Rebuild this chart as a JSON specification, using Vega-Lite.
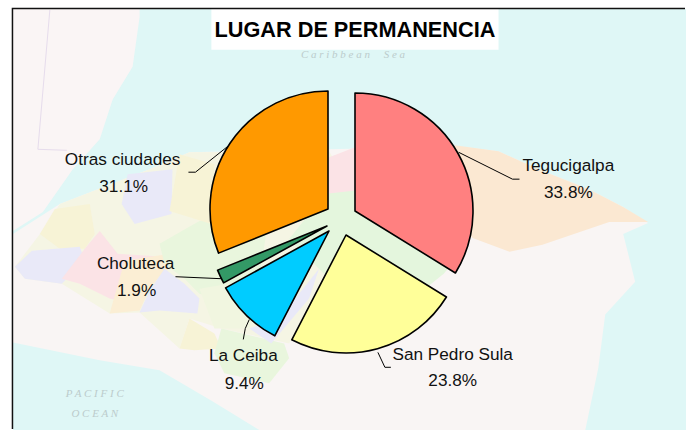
{
"$schema":"https://vega.github.io/schema/vega-lite/v6.json",
"width":688,"height":432,"padding":0,
"autosize":{"type":"fit","contains":"padding"},
"background":"white",
"config":{"view":{"stroke":null}},
"datasets":{
"lugares":[
{"lugar":"Tegucigalpa","pct":33.8,"orden":1},
{"lugar":"San Pedro Sula","pct":23.8,"orden":2},
{"lugar":"La Ceiba","pct":9.4,"orden":3},
{"lugar":"Choluteca","pct":1.9,"orden":4},
{"lugar":"Otras ciudades","pct":31.1,"orden":5}],
"fondo":[
{"parte":"mar","a":13,"a2":688,"b":9,"b2":432}],
"marco":[
{"g":"marco","i":0,"a":12.5,"b":431},{"g":"marco","i":1,"a":12.5,"b":8.5},{"g":"marco","i":2,"a":687,"b":8.5}],
"caja":[
{"parte":"titulo","a":212,"a2":500,"b":9,"b2":50}],
"regiones":[
{"r":"r01","i":0,"a":13,"b":9},{"r":"r01","i":1,"a":140,"b":9},{"r":"r01","i":2,"a":140,"b":17},{"r":"r01","i":3,"a":133,"b":67},{"r":"r01","i":4,"a":113,"b":100},{"r":"r01","i":5,"a":100,"b":140},{"r":"r01","i":6,"a":73,"b":170},{"r":"r01","i":7,"a":43,"b":213},{"r":"r01","i":8,"a":13,"b":232},
{"r":"r02","i":0,"a":13,"b":235},{"r":"r02","i":1,"a":60,"b":205},{"r":"r02","i":2,"a":150,"b":170},{"r":"r02","i":3,"a":190,"b":153},{"r":"r02","i":4,"a":330,"b":150},{"r":"r02","i":5,"a":460,"b":147},{"r":"r02","i":6,"a":500,"b":152},{"r":"r02","i":7,"a":540,"b":170},{"r":"r02","i":8,"a":590,"b":190},{"r":"r02","i":9,"a":625,"b":208},{"r":"r02","i":10,"a":650,"b":224},{"r":"r02","i":11,"a":625,"b":235},{"r":"r02","i":12,"a":637,"b":283},{"r":"r02","i":13,"a":607,"b":316},{"r":"r02","i":14,"a":600,"b":370},{"r":"r02","i":15,"a":587,"b":432},{"r":"r02","i":16,"a":260,"b":432},{"r":"r02","i":17,"a":213,"b":403},{"r":"r02","i":18,"a":160,"b":372},{"r":"r02","i":19,"a":100,"b":362},{"r":"r02","i":20,"a":13,"b":344},
{"r":"r02b","i":0,"a":15,"b":268},{"r":"r02b","i":1,"a":40,"b":235},{"r":"r02b","i":2,"a":60,"b":205},{"r":"r02b","i":3,"a":150,"b":170},{"r":"r02b","i":4,"a":190,"b":153},{"r":"r02b","i":5,"a":330,"b":152},{"r":"r02b","i":6,"a":356,"b":195},{"r":"r02b","i":7,"a":320,"b":290},{"r":"r02b","i":8,"a":290,"b":345},{"r":"r02b","i":9,"a":222,"b":330},{"r":"r02b","i":10,"a":190,"b":320},{"r":"r02b","i":11,"a":180,"b":350},{"r":"r02b","i":12,"a":140,"b":314},{"r":"r02b","i":13,"a":110,"b":315},{"r":"r02b","i":14,"a":62,"b":285},{"r":"r02b","i":15,"a":25,"b":280},
{"r":"r03","i":0,"a":456,"b":146},{"r":"r03","i":1,"a":500,"b":152},{"r":"r03","i":2,"a":540,"b":170},{"r":"r03","i":3,"a":590,"b":190},{"r":"r03","i":4,"a":625,"b":208},{"r":"r03","i":5,"a":650,"b":223},{"r":"r03","i":6,"a":611,"b":223},{"r":"r03","i":7,"a":544,"b":246},{"r":"r03","i":8,"a":511,"b":253},{"r":"r03","i":9,"a":474,"b":239},{"r":"r03","i":10,"a":440,"b":200},
{"r":"r04","i":0,"a":330,"b":190},{"r":"r04","i":1,"a":370,"b":190},{"r":"r04","i":2,"a":470,"b":245},{"r":"r04","i":3,"a":445,"b":275},{"r":"r04","i":4,"a":420,"b":295},{"r":"r04","i":5,"a":340,"b":290},{"r":"r04","i":6,"a":290,"b":240},
{"r":"r05","i":0,"a":325,"b":160},{"r":"r05","i":1,"a":356,"b":148},{"r":"r05","i":2,"a":370,"b":155},{"r":"r05","i":3,"a":370,"b":190},{"r":"r05","i":4,"a":325,"b":195},
{"r":"r06","i":0,"a":55,"b":210},{"r":"r06","i":1,"a":90,"b":205},{"r":"r06","i":2,"a":95,"b":235},{"r":"r06","i":3,"a":85,"b":250},{"r":"r06","i":4,"a":60,"b":250},{"r":"r06","i":5,"a":40,"b":235},
{"r":"r07","i":0,"a":32,"b":252},{"r":"r07","i":1,"a":80,"b":248},{"r":"r07","i":2,"a":85,"b":262},{"r":"r07","i":3,"a":62,"b":285},{"r":"r07","i":4,"a":25,"b":280},{"r":"r07","i":5,"a":15,"b":268},
{"r":"r08","i":0,"a":85,"b":250},{"r":"r08","i":1,"a":100,"b":232},{"r":"r08","i":2,"a":118,"b":255},{"r":"r08","i":3,"a":165,"b":258},{"r":"r08","i":4,"a":165,"b":270},{"r":"r08","i":5,"a":150,"b":285},{"r":"r08","i":6,"a":130,"b":305},{"r":"r08","i":7,"a":110,"b":300},{"r":"r08","i":8,"a":80,"b":285},{"r":"r08","i":9,"a":62,"b":280},
{"r":"r09","i":0,"a":125,"b":262},{"r":"r09","i":1,"a":170,"b":255},{"r":"r09","i":2,"a":170,"b":265},{"r":"r09","i":3,"a":150,"b":290},{"r":"r09","i":4,"a":140,"b":312},{"r":"r09","i":5,"a":110,"b":315},
{"r":"r10","i":0,"a":150,"b":292},{"r":"r10","i":1,"a":165,"b":270},{"r":"r10","i":2,"a":185,"b":285},{"r":"r10","i":3,"a":200,"b":300},{"r":"r10","i":4,"a":198,"b":315},{"r":"r10","i":5,"a":160,"b":312},{"r":"r10","i":6,"a":140,"b":314},
{"r":"r11","i":0,"a":160,"b":245},{"r":"r11","i":1,"a":200,"b":222},{"r":"r11","i":2,"a":270,"b":215},{"r":"r11","i":3,"a":260,"b":280},{"r":"r11","i":4,"a":220,"b":300},{"r":"r11","i":5,"a":200,"b":295},{"r":"r11","i":6,"a":185,"b":280},{"r":"r11","i":7,"a":165,"b":265},
{"r":"r12","i":0,"a":128,"b":175},{"r":"r12","i":1,"a":173,"b":170},{"r":"r12","i":2,"a":172,"b":215},{"r":"r12","i":3,"a":135,"b":225},{"r":"r12","i":4,"a":122,"b":205},
{"r":"r13","i":0,"a":180,"b":155},{"r":"r13","i":1,"a":215,"b":165},{"r":"r13","i":2,"a":212,"b":225},{"r":"r13","i":3,"a":170,"b":212},
{"r":"r14","i":0,"a":190,"b":320},{"r":"r14","i":1,"a":215,"b":335},{"r":"r14","i":2,"a":222,"b":350},{"r":"r14","i":3,"a":195,"b":352},{"r":"r14","i":4,"a":180,"b":350},
{"r":"r15","i":0,"a":222,"b":330},{"r":"r15","i":1,"a":285,"b":345},{"r":"r15","i":2,"a":290,"b":360},{"r":"r15","i":3,"a":270,"b":385},{"r":"r15","i":4,"a":225,"b":375},{"r":"r15","i":5,"a":215,"b":355},
{"r":"r16","i":0,"a":200,"b":290},{"r":"r16","i":1,"a":260,"b":280},{"r":"r16","i":2,"a":250,"b":330},{"r":"r16","i":3,"a":215,"b":330},
{"r":"r17","i":0,"a":250,"b":330},{"r":"r17","i":1,"a":280,"b":320},{"r":"r17","i":2,"a":320,"b":270},{"r":"r17","i":3,"a":310,"b":300},{"r":"r17","i":4,"a":272,"b":345}],
"guias":[
{"g":"otras","i":0,"a":189,"b":173},{"g":"otras","i":1,"a":196,"b":173},{"g":"otras","i":2,"a":231,"b":145},
{"g":"teg","i":0,"a":521,"b":180},{"g":"teg","i":1,"a":514,"b":180},{"g":"teg","i":2,"a":460,"b":153},
{"g":"chol","i":0,"a":176,"b":278},{"g":"chol","i":1,"a":222,"b":280},
{"g":"ceiba","i":0,"a":244,"b":341},{"g":"ceiba","i":1,"a":246,"b":330},{"g":"ceiba","i":2,"a":250,"b":321},
{"g":"sps","i":0,"a":392,"b":369},{"g":"sps","i":1,"a":386,"b":369},{"g":"sps","i":2,"a":379,"b":354}],
"limite":[
{"g":"belice","i":0,"a":50,"b":10},{"g":"belice","i":1,"a":38,"b":150},{"g":"belice","i":2,"a":67,"b":151}],
"rotulos":[
{"t":"Otras ciudades","a":123,"b":160.5},{"t":"31.1%","a":124,"b":187.5},
{"t":"Tegucigalpa","a":570,"b":166.5},{"t":"33.8%","a":570,"b":193.5},
{"t":"Choluteca","a":136,"b":265.5},{"t":"1.9%","a":137,"b":292.5},
{"t":"La Ceiba","a":244,"b":358},{"t":"9.4%","a":245,"b":385.5},
{"t":"San Pedro Sula","a":454,"b":357},{"t":"23.8%","a":454,"b":382.5}],
"mapa":[
{"t":"C a r i b b e a n \u00a0\u00a0\u00a0 S e a","a":354,"b":55},
{"t":"P A C I F I C","a":95,"b":396},
{"t":"O C E A N","a":95,"b":416}],
"encabezado":[{"t":"LUGAR DE PERMANENCIA","a":356,"b":30}]
},
"encoding":{
"x":{"field":"a","type":"quantitative","axis":null,"scale":{"domain":[0,688],"nice":false,"zero":false}},
"y":{"field":"b","type":"quantitative","axis":null,"scale":{"domain":[432,0],"nice":false,"zero":false}}
},
"layer":[
{"data":{"name":"fondo"},"mark":{"type":"rect","fill":"#dff7f6"},
 "encoding":{"x2":{"field":"a2"},"y2":{"field":"b2"}}},
{"data":{"name":"regiones"},"mark":{"type":"line","strokeWidth":0.5,"opacity":1,"filled":true},
 "encoding":{"order":{"field":"i","type":"quantitative"},
 "fill":{"field":"r","type":"nominal","legend":null,"scale":{"domain":["r01","r02","r02b","r03","r04","r05","r06","r07","r08","r09","r10","r11","r12","r13","r14","r15","r16","r17"],"range":["#faf5f5","#f9f5f4","#f5f5e4","#fbe8d2","#e4f6dd","#fbe3e6","#f7f3d6","#e9e9f8","#fbe3e6","#fbeed4","#e9e9f8","#e9f6dd","#e9e9f8","#f7f3d6","#f7f3d6","#e9f6dd","#f1f6e0","#e9e9f8"]}},
 "stroke":{"field":"r","type":"nominal","legend":null,"scale":null}}},
{"data":{"name":"limite"},"mark":{"type":"line","stroke":"#e6dcec","strokeWidth":1},"encoding":{"detail":{"field":"g"},"order":{"field":"i","type":"quantitative"}}},
{"data":{"name":"mapa"},"mark":{"type":"text","font":"Liberation Serif","fontStyle":"italic","fontSize":11,"color":"#bccccc","align":"center","baseline":"middle"},"encoding":{"text":{"field":"t"}}},
{"data":{"name":"caja"},"mark":{"type":"rect","fill":"white"},"encoding":{"x2":{"field":"a2"},"y2":{"field":"b2"}}},
{"data":{"name":"marco"},"mark":{"type":"line","stroke":"#111111","strokeWidth":1.5},"encoding":{"detail":{"field":"g"},"order":{"field":"i","type":"quantitative"}}},
{"data":{"name":"encabezado"},"mark":{"type":"text","font":"Liberation Sans","fontWeight":"bold","fontSize":21.7,"color":"black","align":"center","baseline":"middle"},"encoding":{"text":{"field":"t"}}},
{"data":{"name":"guias"},"mark":{"type":"line","stroke":"black","strokeWidth":1},"encoding":{"detail":{"field":"g"},"order":{"field":"i","type":"quantitative"}}},
{"data":{"name":"rotulos"},"mark":{"type":"text","font":"Liberation Sans","fontSize":17.2,"color":"#111111","align":"center","baseline":"middle"},"encoding":{"text":{"field":"t"}}},
{"data":{"name":"lugares"},"transform":[{"stack":"pct","sort":[{"field":"orden"}],"as":["t1","t2"]},{"filter":"datum.lugar==='Tegucigalpa'"}],
 "mark":{"type":"arc","radius":118,"fill":"#FF8080","stroke":"black","strokeWidth":1.6,"xOffset":12,"yOffset":-4,"strokeJoin":"round"},
 "encoding":{"x":null,"y":null,"theta":{"field":"t1","type":"quantitative","scale":{"domain":[0,100],"range":[0,6.28318]},"stack":null},"theta2":{"field":"t2"}}},
{"data":{"name":"lugares"},"transform":[{"stack":"pct","sort":[{"field":"orden"}],"as":["t1","t2"]},{"filter":"datum.lugar==='San Pedro Sula'"}],
 "mark":{"type":"arc","radius":118,"fill":"#FFFF99","stroke":"black","strokeWidth":1.6,"xOffset":3,"yOffset":20,"strokeJoin":"round"},
 "encoding":{"x":null,"y":null,"theta":{"field":"t1","type":"quantitative","scale":{"domain":[0,100],"range":[0,6.28318]},"stack":null},"theta2":{"field":"t2"}}},
{"data":{"name":"lugares"},"transform":[{"stack":"pct","sort":[{"field":"orden"}],"as":["t1","t2"]},{"filter":"datum.lugar==='La Ceiba'"}],
 "mark":{"type":"arc","radius":118,"fill":"#00CCFF","stroke":"black","strokeWidth":1.6,"xOffset":-14,"yOffset":16,"strokeJoin":"round"},
 "encoding":{"x":null,"y":null,"theta":{"field":"t1","type":"quantitative","scale":{"domain":[0,100],"range":[0,6.28318]},"stack":null},"theta2":{"field":"t2"}}},
{"data":{"name":"lugares"},"transform":[{"stack":"pct","sort":[{"field":"orden"}],"as":["t1","t2"]},{"filter":"datum.lugar==='Choluteca'"}],
 "mark":{"type":"arc","radius":118,"fill":"#339966","stroke":"black","strokeWidth":1.6,"xOffset":-16,"yOffset":11,"strokeJoin":"round"},
 "encoding":{"x":null,"y":null,"theta":{"field":"t1","type":"quantitative","scale":{"domain":[0,100],"range":[0,6.28318]},"stack":null},"theta2":{"field":"t2"}}},
{"data":{"name":"lugares"},"transform":[{"stack":"pct","sort":[{"field":"orden"}],"as":["t1","t2"]},{"filter":"datum.lugar==='Otras ciudades'"}],
 "mark":{"type":"arc","radius":118,"fill":"#FF9900","stroke":"black","strokeWidth":1.6,"xOffset":-15,"yOffset":-6,"strokeJoin":"round"},
 "encoding":{"x":null,"y":null,"theta":{"field":"t1","type":"quantitative","scale":{"domain":[0,100],"range":[0,6.28318]},"stack":null},"theta2":{"field":"t2"}}}
]
}
